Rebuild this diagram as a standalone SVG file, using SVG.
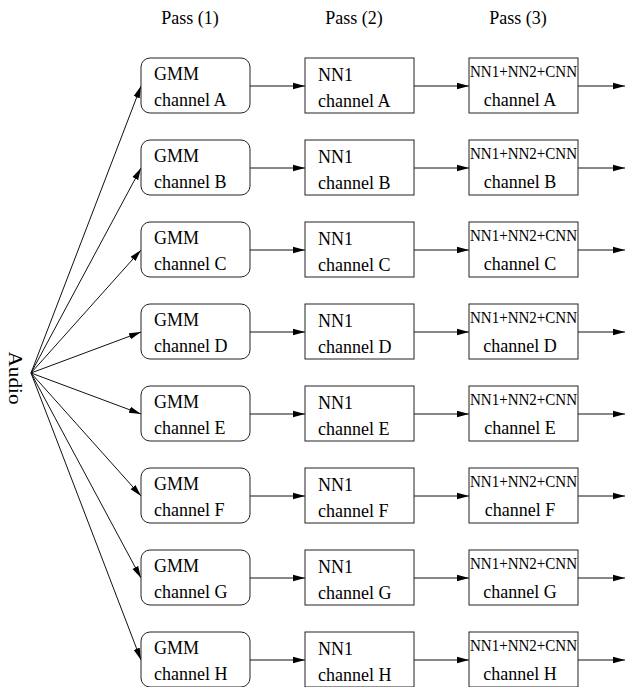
<svg xmlns="http://www.w3.org/2000/svg" width="625" height="687" viewBox="0 0 625 687">
<defs>
<marker id="ah" markerWidth="12" markerHeight="8" refX="12" refY="4" orient="auto" markerUnits="userSpaceOnUse">
<path d="M0,0.8 L12,4 L0,7.2 Z" fill="#000"/>
</marker>
<style>
text{font-family:'Liberation Serif','Times New Roman',serif;font-size:18px;fill:#000}
text.sm{font-size:16.5px}
.box{fill:#fff;stroke:#222;stroke-width:1}
.c line{stroke:#111;stroke-width:1;marker-end:url(#ah)}
</style>
</defs>
<rect width="625" height="687" fill="#fff"/>
<text x="190" y="24" text-anchor="middle">Pass (1)</text>
<text x="354" y="24" text-anchor="middle">Pass (2)</text>
<text x="518" y="24" text-anchor="middle">Pass (3)</text>
<text transform="translate(9,378) rotate(90)" text-anchor="middle" textLength="53" lengthAdjust="spacingAndGlyphs">Audio</text>
<g class="c">
<line x1="31" y1="373" x2="141" y2="86"/>
<line x1="31" y1="373" x2="141" y2="168"/>
<line x1="31" y1="373" x2="141" y2="250"/>
<line x1="31" y1="373" x2="141" y2="332"/>
<line x1="31" y1="373" x2="141" y2="414"/>
<line x1="31" y1="373" x2="141" y2="496"/>
<line x1="31" y1="373" x2="141" y2="578"/>
<line x1="31" y1="373" x2="141" y2="660"/>
<line x1="250" y1="86" x2="305" y2="86"/><line x1="414" y1="86" x2="469" y2="86"/><line x1="578" y1="86" x2="625" y2="86"/>
<line x1="250" y1="168" x2="305" y2="168"/><line x1="414" y1="168" x2="469" y2="168"/><line x1="578" y1="168" x2="625" y2="168"/>
<line x1="250" y1="250" x2="305" y2="250"/><line x1="414" y1="250" x2="469" y2="250"/><line x1="578" y1="250" x2="625" y2="250"/>
<line x1="250" y1="332" x2="305" y2="332"/><line x1="414" y1="332" x2="469" y2="332"/><line x1="578" y1="332" x2="625" y2="332"/>
<line x1="250" y1="414" x2="305" y2="414"/><line x1="414" y1="414" x2="469" y2="414"/><line x1="578" y1="414" x2="625" y2="414"/>
<line x1="250" y1="496" x2="305" y2="496"/><line x1="414" y1="496" x2="469" y2="496"/><line x1="578" y1="496" x2="625" y2="496"/>
<line x1="250" y1="578" x2="305" y2="578"/><line x1="414" y1="578" x2="469" y2="578"/><line x1="578" y1="578" x2="625" y2="578"/>
<line x1="250" y1="660" x2="305" y2="660"/><line x1="414" y1="660" x2="469" y2="660"/><line x1="578" y1="660" x2="625" y2="660"/>
</g>
<g id="gmmA"><rect class="box" x="141" y="58" width="109" height="55" rx="9"/><text x="154" y="80">GMM</text><text x="154" y="106">channel A</text></g>
<g id="nn1A"><rect class="box" x="305" y="58" width="109" height="55"/><text x="318" y="81">NN1</text><text x="318" y="107">channel A</text></g>
<g id="p3A"><rect class="box" x="469" y="58" width="109" height="55"/><text class="sm" x="523.5" y="77" text-anchor="middle" textLength="107" lengthAdjust="spacingAndGlyphs">NN1+NN2+CNN</text><text x="520" y="106" text-anchor="middle">channel A</text></g>
<g id="gmmB"><rect class="box" x="141" y="140" width="109" height="55" rx="9"/><text x="154" y="162">GMM</text><text x="154" y="188">channel B</text></g>
<g id="nn1B"><rect class="box" x="305" y="140" width="109" height="55"/><text x="318" y="163">NN1</text><text x="318" y="189">channel B</text></g>
<g id="p3B"><rect class="box" x="469" y="140" width="109" height="55"/><text class="sm" x="523.5" y="159" text-anchor="middle" textLength="107" lengthAdjust="spacingAndGlyphs">NN1+NN2+CNN</text><text x="520" y="188" text-anchor="middle">channel B</text></g>
<g id="gmmC"><rect class="box" x="141" y="222" width="109" height="55" rx="9"/><text x="154" y="244">GMM</text><text x="154" y="270">channel C</text></g>
<g id="nn1C"><rect class="box" x="305" y="222" width="109" height="55"/><text x="318" y="245">NN1</text><text x="318" y="271">channel C</text></g>
<g id="p3C"><rect class="box" x="469" y="222" width="109" height="55"/><text class="sm" x="523.5" y="241" text-anchor="middle" textLength="107" lengthAdjust="spacingAndGlyphs">NN1+NN2+CNN</text><text x="520" y="270" text-anchor="middle">channel C</text></g>
<g id="gmmD"><rect class="box" x="141" y="304" width="109" height="55" rx="9"/><text x="154" y="326">GMM</text><text x="154" y="352">channel D</text></g>
<g id="nn1D"><rect class="box" x="305" y="304" width="109" height="55"/><text x="318" y="327">NN1</text><text x="318" y="353">channel D</text></g>
<g id="p3D"><rect class="box" x="469" y="304" width="109" height="55"/><text class="sm" x="523.5" y="323" text-anchor="middle" textLength="107" lengthAdjust="spacingAndGlyphs">NN1+NN2+CNN</text><text x="520" y="352" text-anchor="middle">channel D</text></g>
<g id="gmmE"><rect class="box" x="141" y="386" width="109" height="55" rx="9"/><text x="154" y="408">GMM</text><text x="154" y="434">channel E</text></g>
<g id="nn1E"><rect class="box" x="305" y="386" width="109" height="55"/><text x="318" y="409">NN1</text><text x="318" y="435">channel E</text></g>
<g id="p3E"><rect class="box" x="469" y="386" width="109" height="55"/><text class="sm" x="523.5" y="405" text-anchor="middle" textLength="107" lengthAdjust="spacingAndGlyphs">NN1+NN2+CNN</text><text x="520" y="434" text-anchor="middle">channel E</text></g>
<g id="gmmF"><rect class="box" x="141" y="468" width="109" height="55" rx="9"/><text x="154" y="490">GMM</text><text x="154" y="516">channel F</text></g>
<g id="nn1F"><rect class="box" x="305" y="468" width="109" height="55"/><text x="318" y="491">NN1</text><text x="318" y="517">channel F</text></g>
<g id="p3F"><rect class="box" x="469" y="468" width="109" height="55"/><text class="sm" x="523.5" y="487" text-anchor="middle" textLength="107" lengthAdjust="spacingAndGlyphs">NN1+NN2+CNN</text><text x="520" y="516" text-anchor="middle">channel F</text></g>
<g id="gmmG"><rect class="box" x="141" y="550" width="109" height="55" rx="9"/><text x="154" y="572">GMM</text><text x="154" y="598">channel G</text></g>
<g id="nn1G"><rect class="box" x="305" y="550" width="109" height="55"/><text x="318" y="573">NN1</text><text x="318" y="599">channel G</text></g>
<g id="p3G"><rect class="box" x="469" y="550" width="109" height="55"/><text class="sm" x="523.5" y="569" text-anchor="middle" textLength="107" lengthAdjust="spacingAndGlyphs">NN1+NN2+CNN</text><text x="520" y="598" text-anchor="middle">channel G</text></g>
<g id="gmmH"><rect class="box" x="141" y="632" width="109" height="55" rx="9"/><text x="154" y="654">GMM</text><text x="154" y="680">channel H</text></g>
<g id="nn1H"><rect class="box" x="305" y="632" width="109" height="55"/><text x="318" y="655">NN1</text><text x="318" y="681">channel H</text></g>
<g id="p3H"><rect class="box" x="469" y="632" width="109" height="55"/><text class="sm" x="523.5" y="651" text-anchor="middle" textLength="107" lengthAdjust="spacingAndGlyphs">NN1+NN2+CNN</text><text x="520" y="680" text-anchor="middle">channel H</text></g>
</svg>
